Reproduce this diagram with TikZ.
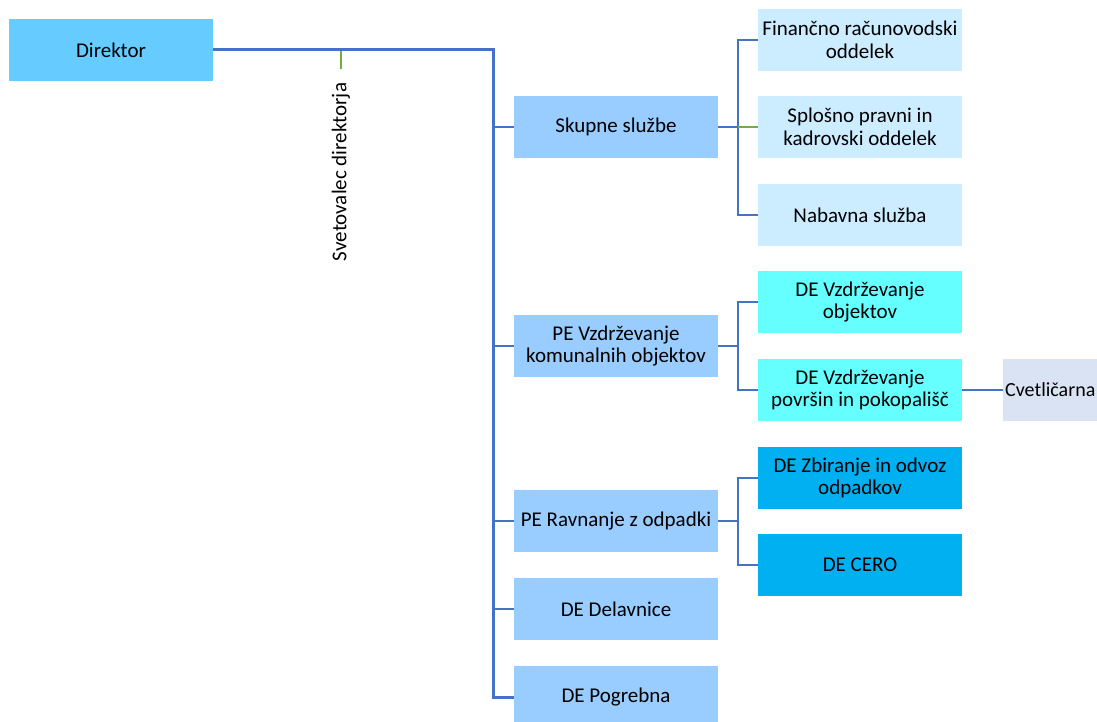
\documentclass[tikz,border=0pt]{standalone}
\usepackage{fontspec}
\setmainfont{Carlito}
\usepackage{xcolor}
\usetikzlibrary{calc}

\definecolor{direktorbarva}{HTML}{66CCFF}
\definecolor{enotabarva}{HTML}{99CCFF}
\definecolor{oddelekbarva}{HTML}{CCECFF}
\definecolor{vzdrbarva}{HTML}{66FFFF}
\definecolor{odpadkibarva}{HTML}{00B0F0}
\definecolor{cvetbarva}{HTML}{DAE3F3}
\definecolor{linija}{HTML}{4472C4}
\definecolor{zelena}{HTML}{70AD47}

\begin{document}
\begin{tikzpicture}[x=1pt, y=-1pt,
		box/.style = {rectangle, minimum width=204pt, minimum height=62pt, inner sep=3pt, align=center, font=\fontsize{21}{22.5}\selectfont},
		glavna/.style = {draw=linija, line width=3pt},
		tanka/.style = {draw=linija, line width=1.5pt},
		zelena tanka/.style = {draw=zelena, line width=1.5pt}]
			\def\xA{616};
			\def\xB{860};
			\def\bus{20};
			
			\useasboundingbox (0,0) rectangle (1097,722);
			\clip (0,0) rectangle (1097,722);
			
			\node [box, fill=direktorbarva] (direktor) at (111,50) {Direktor};
			
			\node [box, fill=enotabarva] (skupne) at (\xA,127) {Skupne službe};
			\node [box, fill=enotabarva] (pe vzdr) at (\xA,346) {PE Vzdrževanje\\komunalnih objektov};
			\node [box, fill=enotabarva] (pe ravn) at (\xA,521) {PE Ravnanje z odpadki};
			\node [box, fill=enotabarva] (delavnice) at (\xA,609) {DE Delavnice};
			\node [box, fill=enotabarva] (pogrebna) at (\xA,697) {DE Pogrebna};
			
			\node [box, fill=oddelekbarva] (financno) at (\xB,40) {Finančno računovodski\\oddelek};
			\node [box, fill=oddelekbarva] (splosno) at (\xB,127) {Splošno pravni in\\kadrovski oddelek};
			\node [box, fill=oddelekbarva] (nabavna) at (\xB,215) {Nabavna služba};
			
			\node [box, fill=vzdrbarva] (de objekti) at (\xB,302) {DE Vzdrževanje\\objektov};
			\node [box, fill=vzdrbarva] (de povrsine) at (\xB,390) {DE Vzdrževanje\\površin in pokopališč};
			\node [box, fill=cvetbarva, anchor=west, inner xsep=1.5pt, text width=200pt, align=left, font=\fontsize{20}{22}\selectfont] (cvetlicarna) at (1003,390) {Cvetličarna};
			
			\node [box, fill=odpadkibarva] (de zbiranje) at (\xB,478) {DE Zbiranje in odvoz\\odpadkov};
			\node [box, fill=odpadkibarva] (de cero) at (\xB,565) {DE CERO};
			
			\coordinate (vodilo) at (493,400);
			\draw [glavna] (direktor.east) -| (vodilo) |- (pogrebna.west);
			\foreach \n in {skupne, pe vzdr, pe ravn, delavnice}
				\draw [tanka] (\n.west) -- (\n.west -| vodilo);
			
			\node [rotate=90, inner sep=0pt, font=\fontsize{21}{22.5}\selectfont] (svetovalec) at (341,172) {Svetovalec direktorja};
			\coordinate (odcep) at (341,51);
			\draw [zelena tanka, line width=2.5pt] (odcep) -- ++(0,18);
			
			\begin{scope}[tanka]
				\draw (skupne.east) -- ++(\bus,0);
				\draw (financno.west) -| ($ (skupne.east) + (\bus,0) $) |- (nabavna.west);
				\draw [zelena tanka] (splosno.west) -- ++(-\bus,0);
				
				\draw (pe vzdr.east) -- ++(\bus,0);
				\draw (de objekti.west) -| ($ (pe vzdr.east) + (\bus,0) $) |- (de povrsine.west);
				\draw (de povrsine.east) -- (cvetlicarna.west);
				
				\draw [line width=2pt] (pe ravn.east) -- ++(\bus,0);
				\draw (de zbiranje.west) -| ($ (pe ravn.east) + (\bus,0) $) |- (de cero.west);
			\end{scope}
		\end{tikzpicture}
\end{document}
